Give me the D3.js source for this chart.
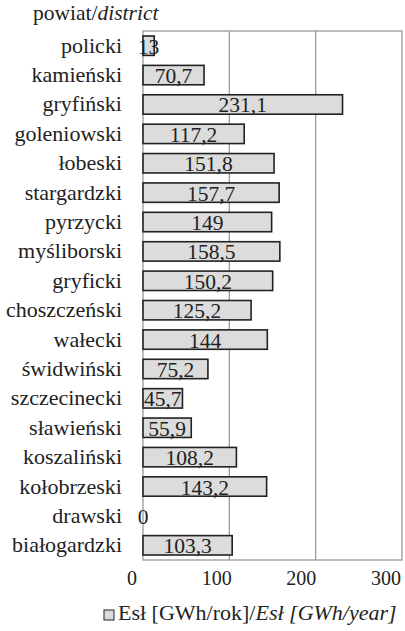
<!DOCTYPE html>
<html>
<meta charset="utf-8">
<head>
<script src="https://d3js.org/d3.v7.min.js"></script>
<title>district chart</title>
</head>
<body style="margin:0">
<svg width="405" height="631"></svg>
<script>
// data
var districts = ["policki", "kamieński", "gryfiński", "goleniowski", "łobeski", "stargardzki",
	"pyrzycki", "myśliborski", "gryficki", "choszczeński", "wałecki", "świdwiński",
	"szczecinecki", "sławieński", "koszaliński", "kołobrzeski", "drawski", "białogardzki"];
var values = [13, 70.7, 231.1, 117.2, 151.8, 157.7, 149, 158.5, 150.2, 125.2, 144, 75.2,
	45.7, 55.9, 108.2, 143.2, 0, 103.3];
var ticks = [0, 100, 200, 300];

var plotLeft = 143, plotRight = 402, plotTop = 31, plotBottom = 560;
var fam = "Liberation Serif";
var ink = "#222";

var svg = d3.select("svg");

var x = d3.scaleLinear().domain([0, 300]).range([plotLeft, plotRight]);
// tick labels in the original sit a bit left of their gridlines
var xl = d3.scaleLinear().domain([0, 300]).range([132, 386]);
var y = d3.scaleBand().domain(districts).range([plotTop, plotBottom]).paddingInner(0.34).paddingOuter(0.17);

var fmt = function(v) { return String(v).replace(".", ","); };

// header
var head = svg.append("text")
	.attr("x", 33).attr("y", 20)
	.attr("font-family", fam)
	.attr("font-size", 21.5)
	.attr("fill", ink);
head.append("tspan").text("powiat/");
head.append("tspan").attr("font-style", "italic").text("district");

// frame + gridlines
svg.append("rect")
	.attr("x", plotLeft).attr("y", plotTop)
	.attr("width", plotRight - plotLeft).attr("height", plotBottom - plotTop)
	.attr("fill", "none").attr("stroke", "#9a9a9a").attr("stroke-width", 1.3);

svg.append("g").selectAll("line")
	.data(ticks.slice(1, 3))
	.enter().append("line")
		.attr("x1", function(d) { return x(d); })
		.attr("x2", function(d) { return x(d); })
		.attr("y1", plotTop).attr("y2", plotBottom)
		.attr("stroke", "#9a9a9a").attr("stroke-width", 1.3);

// bars
svg.append("g").selectAll("rect")
	.data(values)
	.enter().append("rect")
		.attr("x", x(0))
		.attr("y", function(d, i) { return y(districts[i]); })
		.attr("width", function(d) { return x(d) - x(0); })
		.attr("height", y.bandwidth())
		.attr("display", function(d) { return d > 0 ? null : "none"; })
		.attr("fill", "#dcdcdc")
		.attr("stroke", ink)
		.attr("stroke-width", 1.6);

// value labels
svg.append("g").selectAll("text")
	.data(values)
	.enter().append("text")
		.attr("x", function(d) { return (x(0) + x(d)) / 2; })
		.attr("y", function(d, i) { return y(districts[i]) + y.bandwidth() / 2 + 8; })
		.attr("text-anchor", "middle")
		.attr("font-family", fam)
		.attr("font-size", 21.5)
		.attr("fill", ink)
		.text(function(d) { return fmt(d); });

// category labels
svg.append("g").selectAll("text")
	.data(districts)
	.enter().append("text")
		.attr("x", 122)
		.attr("y", function(d) { return y(d) + y.bandwidth() / 2 + 7; })
		.attr("text-anchor", "end")
		.attr("font-family", fam)
		.attr("font-size", 22)
		.attr("fill", ink)
		.text(function(d) { return d; });

// x tick labels
svg.append("g").selectAll("text")
	.data(ticks)
	.enter().append("text")
		.attr("x", function(d) { return xl(d); })
		.attr("y", 585)
		.attr("text-anchor", "middle")
		.attr("font-family", fam)
		.attr("font-size", 20)
		.attr("fill", ink)
		.text(function(d) { return d; });

// legend
svg.append("rect")
	.attr("x", 104).attr("y", 610)
	.attr("width", 10).attr("height", 10)
	.attr("fill", "#dcdcdc").attr("stroke", ink).attr("stroke-width", 1);
var leg = svg.append("text")
	.attr("x", 118).attr("y", 620)
	.attr("font-family", fam)
	.attr("font-size", 22)
	.attr("fill", ink);
leg.append("tspan").text("Esł [GWh/rok]/");
leg.append("tspan").attr("font-style", "italic").text("Esł [GWh/year]");
</script>
</body>
</html>
